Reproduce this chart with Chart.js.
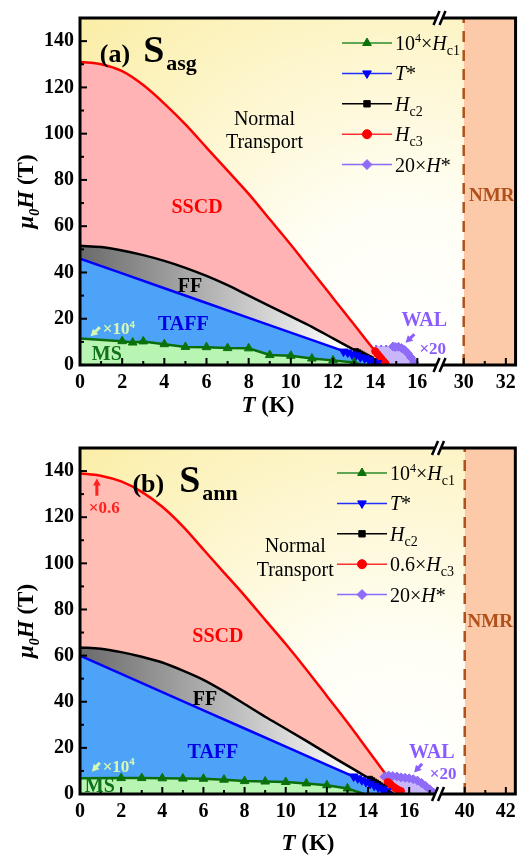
<!DOCTYPE html>
<html>
<head>
<meta charset="utf-8">
<script src="https://cdn.jsdelivr.net/npm/chart.js@4/dist/chart.umd.min.js"></script>
<style>
	body { margin: 0; background: #fff; width: 522px; height: 859px; overflow: hidden; }
	canvas { display: block; }
</style>
</head>
<body>
<canvas id="chartA" width="522" height="430" style="width:522px;height:430px"></canvas>
<canvas id="chartB" width="522" height="429" style="width:522px;height:429px"></canvas>
<script>
const SERIF = '"Liberation Serif", "Times New Roman", serif';

// Tick values (T in K, field in T)
const yTicks = [0, 20, 40, 60, 80, 100, 120, 140];
const yMinor = [10, 30, 50, 70, 90, 110, 130];
const xTicksA = [0, 2, 4, 6, 8, 10, 12, 14, 16, 30, 32];
const xMinorA = [1, 3, 5, 7, 9, 11, 13, 15, 17, 31];
const xTicksB = [0, 2, 4, 6, 8, 10, 12, 14, 16, 40, 42];
const xMinorB = [1, 3, 5, 7, 9, 11, 13, 15, 17, 41];

// (a) as-grown sample: [T, mu0H]
const hc3CurveA = [[0, 131], [1, 130], [2, 127], [3, 121], [4, 113], [5, 104], [6, 94], [7, 84], [8, 74], [9, 63], [10, 52], [11, 40.5], [12, 29], [13, 17.5], [14, 6], [14.6, 0]];
const hc3PointsA = [[14.0, 6], [14.1, 4.9], [14.2, 3.8], [14.3, 2.7], [14.4, 1.6], [14.5, 0.6]];
const hc2CurveA = [[0, 51.5], [1, 51], [2, 49.5], [3, 47.5], [4, 45], [5, 42], [6, 38.5], [7, 34.5], [8, 30], [9, 25.5], [10, 21], [11, 16.5], [12, 11.5], [13, 6.5], [13.5, 4], [14, 1.5], [14.3, 0]];
const hc2PointsA = [[13.1, 6], [13.2, 5.5], [13.3, 5], [13.4, 4.5], [13.5, 4], [13.6, 3.5], [13.7, 3], [13.8, 2.5]];
const tStarLineA = [[0, 46], [2, 39.6], [4, 33.2], [6, 26.8], [8, 20.4], [10, 14], [12, 7.6], [12.5, 6], [13, 4.4], [13.5, 2.8], [14, 1.2], [14.3, 0]];
const tStarPointsA = [[12.5, 5.8], [12.7, 5.4], [12.9, 4.6], [13.1, 4.2], [13.3, 3.4], [13.5, 2.9], [13.7, 2.2], [13.9, 1.5], [14.1, 0.8]];
const hc1LineA = [[0, 11.5], [2, 10.3], [2.5, 9.7], [3, 10.2], [4, 9], [5, 7.8], [6, 7.7], [7, 7.3], [8, 7.2], [9, 4.3], [10, 4], [11, 2.8], [12, 2], [13, 1.1], [13.4, 0]];
const hc1PointsA = [[2, 10.3], [2.5, 9.7], [3, 10.2], [4, 9], [5, 7.8], [6, 7.7], [7, 7.3], [8, 7.2], [9, 4.3], [10, 4], [11, 2.8], [12, 2], [13, 1.1]];
const hStarLineA = [[14.0, 8.2], [14.8, 8.2], [14.95, 7.8], [15.1, 7.9], [15.25, 7.3], [15.4, 6.5], [15.55, 5], [15.7, 3.2], [15.85, 1.2], [15.95, 0]];
const hStarPointsA = [[14.85, 8], [14.95, 7.8], [15.1, 7.9], [15.25, 7.3], [15.4, 6.5], [15.55, 5], [15.7, 3.2], [15.85, 1.2]];

// (b) annealed sample: [T, mu0H]
const hc3CurveB = [[0, 139], [1, 138], [2, 135.5], [3, 131], [4, 124.5], [5, 116], [6, 106], [7, 96], [8, 86], [9, 75.5], [10, 65], [11, 54], [12, 42.5], [13, 31], [14, 19], [15, 7], [15.6, 1], [15.75, 0]];
const hc3PointsB = [[14.95, 5.2], [15.05, 4.4], [15.15, 3.6], [15.25, 3], [15.35, 2.4], [15.45, 1.9], [15.6, 1.3]];
const hc2CurveB = [[0, 63.5], [1, 63], [2, 61.5], [3, 59.5], [4, 57], [5, 53.5], [6, 49.5], [7, 44.5], [8, 39], [9, 33.5], [10, 28.3], [11, 23], [12, 17.6], [13, 12.3], [14, 7], [14.5, 4.3], [15, 1.5], [15.25, 0]];
const hc2PointsB = [[14.1, 6.6], [14.2, 6], [14.3, 5.4], [14.4, 4.9], [14.5, 4.3], [14.6, 3.7], [14.7, 3.1], [14.8, 2.4]];
const tStarLineB = [[0, 60], [2, 52.1], [4, 44.2], [6, 36.3], [8, 28.4], [10, 20.5], [12, 12.6], [13, 8.7], [14, 4.7], [15, 0.8], [15.2, 0]];
const tStarPointsB = [[13.3, 7.6], [13.5, 6.8], [13.7, 6], [13.9, 5.2], [14.1, 4.4], [14.3, 3.6], [14.5, 2.8], [14.7, 2], [14.9, 1.2]];
const hc1LineB = [[0, 6.8], [2, 6.9], [3, 6.9], [4, 6.8], [5, 6.7], [6, 6.6], [7, 6.2], [8, 5.6], [9, 5.4], [10, 5.2], [11, 4.6], [12, 3.8], [13, 2.4], [13.8, 0]];
const hc1PointsB = [[2, 6.9], [3, 6.9], [4, 6.8], [5, 6.7], [6, 6.6], [7, 6.2], [8, 5.6], [9, 5.4], [10, 5.2], [11, 4.6], [12, 3.8], [13, 2.4]];
const hStarLineB = [[14.8, 7.5], [15, 8], [15.2, 7.8], [15.4, 7.6], [15.6, 7.2], [15.8, 7], [16, 6.8], [16.2, 6.4], [16.4, 5.8], [16.6, 4.8], [16.8, 3.5], [17, 2], [17.2, 0.5], [17.3, 0]];
const hStarPointsB = [[14.8, 7.5], [15, 8], [15.2, 7.8], [15.4, 7.6], [15.6, 7.2], [15.8, 7], [16, 6.8], [16.2, 6.4], [16.4, 5.8], [16.6, 4.8], [16.8, 3.5], [17, 2], [17.2, 0.5]];

// Legend rows: marker + rich label parts [text, kind]
const legendA = [
	{ style: "triangle", rot: 0, line: "#2a8a2a", fill: "#0b720b", r: 5, label: [["10", "n"], ["4", "sup"], ["×", "n"], ["H", "i"], ["c1", "sub"]] },
	{ style: "triangle", rot: 180, line: "#2030ff", fill: "#0000ff", r: 5, label: [["T", "i"], ["*", "n"]] },
	{ style: "rect", rot: 0, line: "#000", fill: "#000", r: 4.5, label: [["H", "i"], ["c2", "sub"]] },
	{ style: "circle", rot: 0, line: "#ff3030", fill: "#ff0000", r: 4.5, label: [["H", "i"], ["c3", "sub"]] },
	{ style: "rectRot", rot: 0, line: "#8a6cff", fill: "#8f6cf8", r: 5, label: [["20×", "n"], ["H", "i"], ["*", "n"]] },
];
const legendB = legendA.map((row, i) => (i === 3 ? { ...row, label: [["0.6×", "n"], ["H", "i"], ["c3", "sub"]] } : row));

function toPairs(list, toAxis) {
	return list.map(([t, h]) => ({ x: toAxis(t), y: h }));
}

// Draws a run of text pieces with different styles along one baseline
function drawRich(ctx, parts, x, y, size, align) {
	const styles = {
		n: [`${size}px`, 0],
		i: [`italic ${size}px`, 0],
		b: [`bold ${size}px`, 0],
		bi: [`italic bold ${size}px`, 0],
		sup: [`${Math.round(size * 0.62)}px`, -size * 0.38],
		bsup: [`bold ${Math.round(size * 0.62)}px`, -size * 0.38],
		sub: [`${Math.round(size * 0.68)}px`, size * 0.24],
		bisub: [`italic bold ${Math.round(size * 0.62)}px`, size * 0.24],
	};
	ctx.textBaseline = "alphabetic";
	ctx.textAlign = "left";
	let width = 0;
	parts.forEach(([t, k]) => {
		ctx.font = `${styles[k][0]} ${SERIF}`;
		width += ctx.measureText(t).width;
	});
	let cx = align === "center" ? x - width / 2 : x;
	parts.forEach(([t, k]) => {
		ctx.font = `${styles[k][0]} ${SERIF}`;
		ctx.fillText(t, cx, y + styles[k][1]);
		cx += ctx.measureText(t).width;
	});
}

function drawArrow(ctx, x0, y0, x1, y1, color, width, head) {
	const ang = Math.atan2(y1 - y0, x1 - x0);
	ctx.strokeStyle = color;
	ctx.fillStyle = color;
	ctx.lineWidth = width;
	ctx.beginPath();
	ctx.moveTo(x0, y0);
	ctx.lineTo(x1 - Math.cos(ang) * head * 0.8, y1 - Math.sin(ang) * head * 0.8);
	ctx.stroke();
	ctx.beginPath();
	ctx.moveTo(x1, y1);
	ctx.lineTo(x1 - Math.cos(ang - 0.5) * head, y1 - Math.sin(ang - 0.5) * head);
	ctx.lineTo(x1 - Math.cos(ang + 0.5) * head, y1 - Math.sin(ang + 0.5) * head);
	ctx.closePath();
	ctx.fill();
}

const panelA = {
	id: "chartA", gapAt: 17.1, shift: 11.8, tEnd: 32.46, nmrFrom: 30,
	xTicks: xTicksA, xMinor: xMinorA,
	hc3Curve: hc3CurveA, hc3Points: hc3PointsA, hc2Curve: hc2CurveA, hc2Points: hc2PointsA,
	tStarLine: tStarLineA, tStarPoints: tStarPointsA, hc1Line: hc1LineA, hc1Points: hc1PointsA,
	hStarLine: hStarLineA, hStarPoints: hStarPointsA,
	sscdColor: "#ffb3b5", ffEnd: 12.5,
	legend: legendA, legendLeft: 262, legendTop: 25,
	title: { at: [0.94, 131], tag: "(a)", sub: "asg", sGap: 13 },
	xTitle: [268, 412],
	notes: [
		{ at: [8.75, 103.7], parts: [["Normal", "n"]], size: 20, color: "#000", align: "center" },
		{ at: [8.75, 93.7], parts: [["Transport", "n"]], size: 20, color: "#000", align: "center" },
		{ at: [5.55, 65.8], parts: [["SSCD", "b"]], size: 20, color: "#ff0000", align: "center" },
		{ at: [5.22, 31.7], parts: [["FF", "b"]], size: 20, color: "#000", align: "center" },
		{ at: [4.9, 15], parts: [["TAFF", "b"]], size: 20, color: "#0000e6", align: "center" },
		{ at: [1.27, 2.1], parts: [["MS", "b"]], size: 20, color: "#11701a", align: "center" },
		{ at: [1.08, 13.3], parts: [["×10", "b"], ["4", "bsup"]], size: 17, color: "#d8f9b4", align: "left" },
		{ at: [16.33, 16.7], parts: [["WAL", "b"]], size: 20, color: "#8a5cff", align: "center" },
		{ at: [16.1, 4.6], parts: [["×20", "b"]], size: 17, color: "#8a5cff", align: "left" },
		{ at: [30.25, 70.8], parts: [["NMR", "b"]], size: 19, color: "#b0501a", align: "left" },
	],
	arrows: [
		{ from: [0.94, 16.3], to: [0.5, 12.4], color: "#d8f9b4" },
		{ from: [15.86, 13.3], to: [15.44, 9.6], color: "#8a5cff" },
	],
};

const panelB = {
	id: "chartB", gapAt: 17.45, shift: 21.3, tEnd: 42.46, nmrFrom: 40,
	xTicks: xTicksB, xMinor: xMinorB,
	hc3Curve: hc3CurveB, hc3Points: hc3PointsB, hc2Curve: hc2CurveB, hc2Points: hc2PointsB,
	tStarLine: tStarLineB, tStarPoints: tStarPointsB, hc1Line: hc1LineB, hc1Points: hc1PointsB,
	hStarLine: hStarLineB, hStarPoints: hStarPointsB,
	sscdColor: "#ffbdb3", ffEnd: 13.5,
	legend: legendB, legendLeft: 257, legendTop: 25,
	title: { at: [2.55, 131], tag: "(b)", sub: "ann", sGap: 15 },
	xTitle: [308, 420],
	notes: [
		{ at: [10.46, 104.8], parts: [["Normal", "n"]], size: 20, color: "#000", align: "center" },
		{ at: [10.46, 94.3], parts: [["Transport", "n"]], size: 20, color: "#000", align: "center" },
		{ at: [6.7, 66], parts: [["SSCD", "b"]], size: 20, color: "#ff0000", align: "center" },
		{ at: [6.07, 38.7], parts: [["FF", "b"]], size: 20, color: "#000", align: "center" },
		{ at: [6.46, 15.6], parts: [["TAFF", "b"]], size: 20, color: "#0000e6", align: "center" },
		{ at: [0.96, 0.8], parts: [["MS", "b"]], size: 20, color: "#11701a", align: "center" },
		{ at: [1.1, 9.7], parts: [["×10", "b"], ["4", "bsup"]], size: 17, color: "#d8f9b4", align: "left" },
		{ at: [17.1, 15.6], parts: [["WAL", "b"]], size: 20, color: "#8a5cff", align: "center" },
		{ at: [17.0, 6.3], parts: [["×20", "b"]], size: 17, color: "#8a5cff", align: "left" },
		{ at: [0.43, 121.7], parts: [["×0.6", "b"]], size: 17, color: "#ff2020", align: "left" },
		{ at: [40.14, 72.4], parts: [["NMR", "b"]], size: 19, color: "#b0501a", align: "left" },
	],
	arrows: [
		{ from: [0.96, 13.5], to: [0.58, 9.7], color: "#d8f9b4" },
		{ from: [16.63, 13.1], to: [16.24, 9.3], color: "#8a5cff" },
		{ from: [0.82, 129.3], to: [0.82, 136.8], color: "#ff2020" },
	],
};

// Background, frame, inward ticks, axis breaks, legend and region labels
function decorPlugin(p, toAxis) {
	return {
		id: "phaseDecor",
		beforeDatasetsDraw(chart) {
			const { ctx, chartArea: a, scales } = chart;
			const cx = scales.x.getPixelForValue(15.5);
			const cy = scales.y.getPixelForValue(8);
			const g = ctx.createRadialGradient(cx, cy, 0, cx, cy, 470);
			g.addColorStop(0, "#ffffff");
			g.addColorStop(0.3, "#fffef4");
			g.addColorStop(1, "#fbeda4");
			ctx.save();
			ctx.fillStyle = g;
			ctx.fillRect(a.left, a.top, a.right - a.left, a.bottom - a.top);
			ctx.restore();
		},
		afterDatasetsDraw(chart) {
			const { ctx, chartArea: a, scales } = chart;
			const X = (t) => scales.x.getPixelForValue(toAxis(t));
			const Y = (h) => scales.y.getPixelForValue(h);
			ctx.save();

			// inward tick marks
			ctx.strokeStyle = "#000";
			ctx.lineWidth = 2;
			const tick = (x0, y0, x1, y1) => {
				ctx.beginPath();
				ctx.moveTo(x0, y0);
				ctx.lineTo(x1, y1);
				ctx.stroke();
			};
			p.xTicks.forEach((t) => tick(X(t), a.bottom, X(t), a.bottom - 7));
			p.xMinor.forEach((t) => tick(X(t), a.bottom, X(t), a.bottom - 4));
			yTicks.forEach((h) => tick(a.left, Y(h), a.left + 7, Y(h)));
			yMinor.forEach((h) => tick(a.left, Y(h), a.left + 4, Y(h)));

			// frame
			ctx.lineWidth = 3;
			ctx.strokeRect(a.left, a.top, a.right - a.left, a.bottom - a.top);

			// axis break marks
			const bx = scales.x.getPixelForValue(p.gapAt);
			[a.top, a.bottom].forEach((by) => {
				ctx.fillStyle = "#fff";
				ctx.beginPath();
				ctx.moveTo(bx - 7, by + 7);
				ctx.lineTo(bx - 1, by - 7);
				ctx.lineTo(bx + 5, by - 7);
				ctx.lineTo(bx - 1, by + 7);
				ctx.closePath();
				ctx.fill();
				ctx.lineWidth = 2.5;
				tick(bx - 7, by + 7, bx - 1, by - 7);
				tick(bx - 1, by + 7, bx + 5, by - 7);
			});

			// legend
			p.legend.forEach((row, i) => {
				const y = a.top + p.legendTop + i * 30.4;
				const x0 = a.left + p.legendLeft;
				ctx.strokeStyle = row.line;
				ctx.lineWidth = 1.5;
				tick(x0, y, x0 + 50, y);
				ctx.fillStyle = row.fill;
				ctx.strokeStyle = row.fill;
				ctx.lineWidth = 1;
				Chart.helpers.drawPoint(ctx, { pointStyle: row.style, radius: row.r, rotation: row.rot, borderWidth: 1 }, x0 + 25, y);
				ctx.fillStyle = "#000";
				drawRich(ctx, row.label, x0 + 53, y + 7, 20, "left");
			});

			// sample title
			const t = p.title;
			const tx = X(t.at[0]);
			const ty = Y(t.at[1]);
			ctx.fillStyle = "#000";
			ctx.font = `bold 26px ${SERIF}`;
			ctx.textAlign = "left";
			ctx.textBaseline = "alphabetic";
			ctx.fillText(t.tag, tx, ty);
			const sx = tx + ctx.measureText(t.tag).width + t.sGap;
			ctx.font = `bold 38px ${SERIF}`;
			ctx.fillText("S", sx, ty);
			const subX = sx + ctx.measureText("S").width + 2;
			ctx.font = `bold 22px ${SERIF}`;
			ctx.fillText(t.sub, subX, ty + 8);

			// region labels
			p.notes.forEach((n) => {
				ctx.fillStyle = n.color;
				drawRich(ctx, n.parts, X(n.at[0]), Y(n.at[1]), n.size, n.align);
			});
			p.arrows.forEach((ar) => {
				drawArrow(ctx, X(ar.from[0]), Y(ar.from[1]), X(ar.to[0]), Y(ar.to[1]), ar.color, 3, 8);
			});
			ctx.restore();
		},
		afterDraw(chart) {
			const { ctx, chartArea: a } = chart;
			ctx.save();
			ctx.fillStyle = "#000";
			// x title
			drawRich(ctx, [["T", "bi"], [" (K)", "b"]], p.xTitle[0], p.xTitle[1], 23, "center");
			// y title
			ctx.translate(33, (a.top + a.bottom) / 2);
			ctx.rotate(-Math.PI / 2);
			drawRich(ctx, [["μ", "bi"], ["0", "bisub"], ["H", "bi"], [" (T)", "b"]], 0, 0, 23, "center");
			ctx.restore();
		},
	};
}

function buildPanel(p) {
	const toAxis = (t) => (t <= p.gapAt ? t : t - p.shift);
	const xMax = toAxis(p.tEnd);

	const ffGradient = (c) => {
		const chart = c.chart;
		if (!chart.chartArea || !chart.scales.x) return "#aaaaaa";
		const x = chart.scales.x;
		const g = chart.ctx.createLinearGradient(x.getPixelForValue(0), 0, x.getPixelForValue(p.ffEnd), 0);
		g.addColorStop(0, "#6a6a6a");
		g.addColorStop(1, "#ffffff");
		return g;
	};

	const curve = (data, border, fill, order, extra = {}) => ({
		data: toPairs(data, toAxis),
		borderColor: border,
		borderWidth: 2.5,
		backgroundColor: fill,
		fill: "origin",
		pointRadius: 0,
		cubicInterpolationMode: "monotone",
		order,
		...extra,
	});
	const markers = (data, style, color, r, order, rot = 0) => ({
		data: toPairs(data, toAxis),
		showLine: false,
		pointStyle: style,
		pointRotation: rot,
		pointRadius: r,
		pointBackgroundColor: color,
		pointBorderColor: color,
		pointBorderWidth: 1,
		order,
	});

	const datasets = [
		// NMR region and its boundary
		{ data: toPairs([[p.nmrFrom, 150], [p.tEnd, 150]], toAxis), borderWidth: 0, backgroundColor: "#fdcaa9", fill: "origin", pointRadius: 0, order: 20 },
		{ data: toPairs([[p.nmrFrom, 0], [p.nmrFrom, 150]], toAxis), borderColor: "#b0501a", borderWidth: 2.5, borderDash: [11, 8], fill: false, pointRadius: 0, order: 19 },
		curve(p.hStarLine, "#8a5cf5", "#c8b6fb", 15, { borderDash: [2, 3], borderWidth: 2, cubicInterpolationMode: "default", tension: 0 }),
		curve(p.hc3Curve, "#ff0000", p.sscdColor, 14),
		curve(p.hc2Curve, "#000000", ffGradient, 13),
		curve(p.tStarLine, "#0000ff", "#4da3f8", 12, { cubicInterpolationMode: "default", tension: 0 }),
		curve(p.hc1Line, "#0b6e0b", "#b8f5b2", 11, { cubicInterpolationMode: "default", tension: 0 }),
		markers(p.hStarPoints, "rectRot", "#8f6cf8", 4.5, 5),
		markers(p.hc3Points, "circle", "#ff0000", 3.5, 4),
		markers(p.hc2Points, "rect", "#000000", 3.5, 3),
		markers(p.tStarPoints, "triangle", "#0000ff", 5, 2, 180),
		markers(p.hc1Points, "triangle", "#0b720b", 5, 1),
	];

	const tickFont = { family: SERIF, size: 20, weight: "bold" };

	return new Chart(document.getElementById(p.id), {
		type: "line",
		data: { datasets },
		options: {
			responsive: false,
			animation: false,
			events: [],
			layout: { padding: { top: 7, right: 3, left: 0, bottom: 0 } },
			plugins: { legend: { display: false }, tooltip: { enabled: false } },
			scales: {
				x: {
					type: "linear",
					min: 0,
					max: xMax,
					grid: { display: false, drawTicks: false },
					border: { display: false },
					afterBuildTicks: (axis) => {
						axis.ticks = p.xTicks.map((t) => ({ value: toAxis(t) }));
					},
					ticks: {
						autoSkip: false,
						maxRotation: 0,
						padding: 6,
						color: "#000",
						font: tickFont,
						callback: (v, i) => String(p.xTicks[i]),
					},
					afterFit: (s) => {
						s.height = 65;
					},
				},
				y: {
					type: "linear",
					min: 0,
					max: 150,
					grid: { display: false, drawTicks: false },
					border: { display: false },
					afterBuildTicks: (axis) => {
						axis.ticks = yTicks.map((v) => ({ value: v }));
					},
					ticks: { padding: 6, color: "#000", font: tickFont },
					afterFit: (s) => {
						s.width = 80;
					},
				},
			},
		},
		plugins: [decorPlugin(p, toAxis)],
	});
}

buildPanel(panelA);
buildPanel(panelB);
</script>
</body>
</html>
